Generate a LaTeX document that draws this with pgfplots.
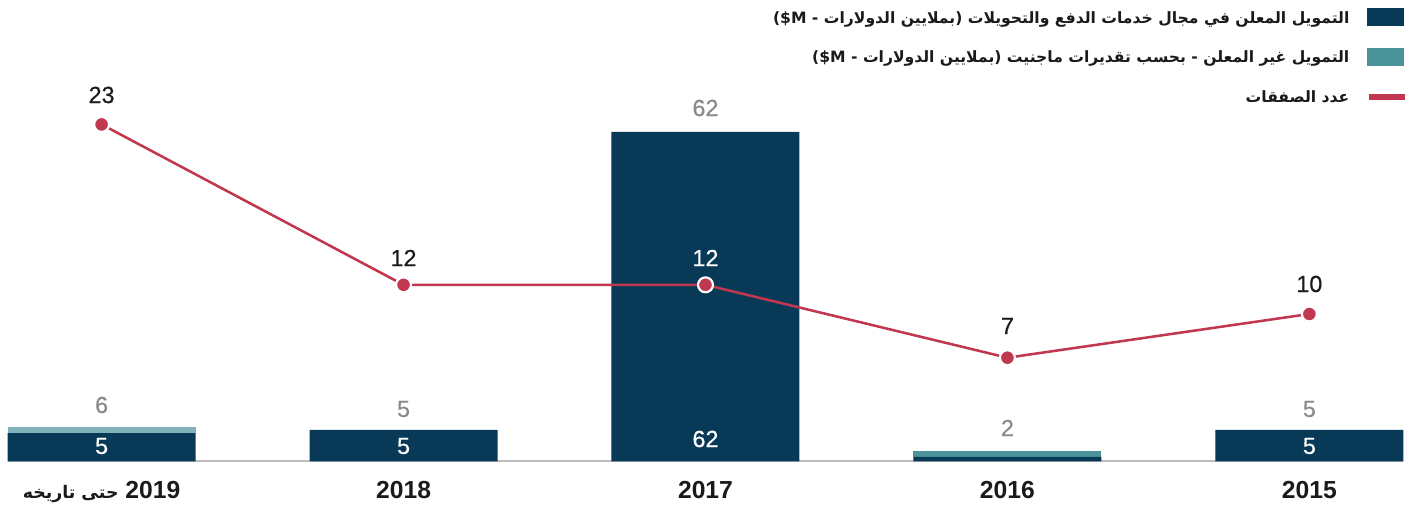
\documentclass[border=0pt]{standalone}
\usepackage{fontspec}
\setmainfont{Liberation Sans}
\newfontfamily\numfont[FakeBold=0.5]{Liberation Sans}
\newfontfamily\arabicfont[Script=Arabic]{DejaVu Sans}
\usepackage{pgfplots}
\pgfplotsset{compat=1.18}
\TeXXeTstate=1
\definecolor{cNavy}{HTML}{083A58}
\definecolor{cTeal}{HTML}{4A9499}
\definecolor{cTealL}{HTML}{7FB3B9}
\definecolor{cRed}{HTML}{C13750}
\definecolor{cGray}{HTML}{8A8A8A}
\definecolor{cAxis}{HTML}{BBBBBB}
\definecolor{cText}{HTML}{1A1A1A}
\pgfplotsset{
  base/.style={
    scale only axis, width=1046.25pt, height=330pt,
    at={(6pt,33.375pt)}, anchor=south west,
    xmin=-0.31, xmax=4.31, clip=false,
  },
  lbl/.style={
    draw=none, mark=none, nodes near coords, point meta=explicit symbolic,
    every node near coord/.append style={anchor=center, inner sep=0pt, yshift=0pt,
      font=\numfont\fontsize{17.5}{17.5}\selectfont, text=#1},
  },
}
\begin{document}
\begin{tikzpicture}
\useasboundingbox (0,0) rectangle (1061.25pt,379.5pt);
% bars
\begin{axis}[base,
  ymin=0, ymax=82.78,
  ybar stacked, bar width=141pt,
  axis x line*=bottom, axis y line=none,
  x axis line style={cAxis, line width=1.5pt, -},
  xtick={0,1,2,3,4}, major tick length=0pt,
  xticklabels={{\beginR\beginL 2019\endL\ {\arabicfont\bfseries\fontsize{13}{13}\selectfont حتى تاريخه}\endR},{2018},{2017},{2016},{2015}},
  xticklabel style={anchor=base, yshift=-28.1pt, font=\bfseries\fontsize{18.5}{18.5}\selectfont, text=cText},
  legend plot pos=right,
  legend cell align=right,
  legend style={draw=none, fill=none, at={(1.0014,1.0307)}, anchor=north east,
    inner sep=0pt, row sep=16.1pt, font=\arabicfont\bfseries\fontsize{11.7}{11.7}\selectfont, text=cText,
    nodes={inner sep=0pt, text depth=0pt}},
]
\addplot[fill=cNavy, draw=none,
  legend image code/.code={\path (-13.5pt,0); \fill[cNavy] (0pt,-6.75pt) rectangle (27.75pt,6.75pt);}]
  coordinates {(0,5.36) (1,5.93) (2,62) (3,0.85) (4,5.93)};
\addlegendentry{\beginR التمويل المعلن في مجال خدمات الدفع والتحويلات (بملايين الدولارات - \beginL\$M\endL)\endR}
\addplot[fill=cTeal, draw=none,
  legend image code/.code={\path (-13.5pt,0); \fill[cTeal] (0pt,-6.75pt) rectangle (27.75pt,6.75pt);}]
  coordinates {(0,0) (1,0) (2,0) (3,1.13) (4,0)};
\addlegendentry{\beginR التمويل غير المعلن - بحسب تقديرات ماجنيت (بملايين الدولارات - \beginL\$M\endL)\endR}
\addplot[fill=cTealL, draw=none, forget plot]
  coordinates {(0,1.13) (1,0) (2,0) (3,0) (4,0)};
\addlegendimage{legend image code/.code={\path (-12pt,-6.75pt) (0,6.75pt); \fill[cRed] (1.5pt,-1.9pt) rectangle (27.75pt,1.9pt);}}
\addlegendentry{\beginR عدد الصفقات\endR}
\end{axis}
% line
\begin{axis}[base, ymin=-0.117, ymax=30.06, hide axis]
\addplot[cRed, line width=1.9pt, mark=*, mark size=5.6pt,
  mark options={fill=cRed, draw=white, line width=1.6pt}]
  coordinates {(0,23) (1,12) (2,12) (3,7) (4,10)};
\end{axis}
% labels (axis in pixel units above the baseline)
\begin{axis}[base, ymin=0, ymax=440, hide axis]
\addplot[lbl=cGray] table[meta=m] {
x y m
0 56.5 6
1 52.5 5
2 353.5 62
3 33.5 2
4 52.5 5
};
\addplot[lbl=white] table[meta=m] {
x y m
0 15.5 5
1 15.5 5
2 22.5 62
4 15.5 5
2 203.5 12
};
\addplot[lbl=cText] table[meta=m] {
x y m
0 366.5 23
1 203.5 12
3 135.5 7
4 177.5 10
};
\end{axis}
\end{tikzpicture}
\end{document}
